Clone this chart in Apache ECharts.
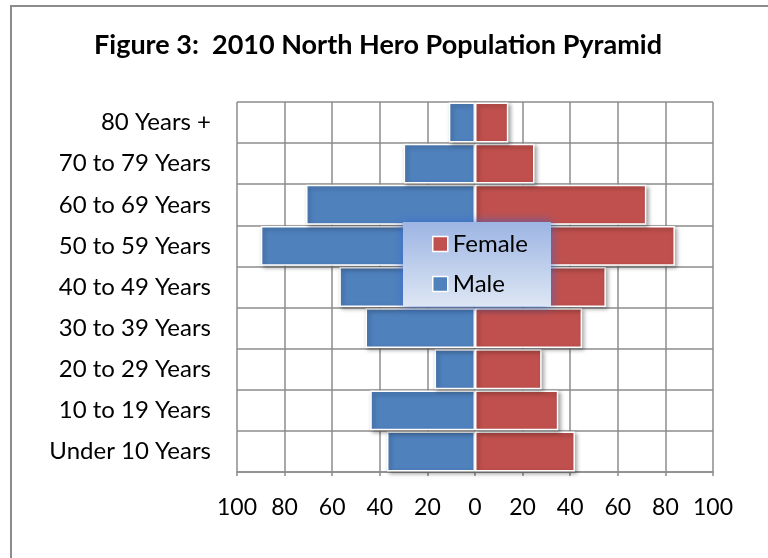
<!DOCTYPE html>
<html lang="en">
<head>
    <meta charset="UTF-8">
    <title>2010 North Hero Population Pyramid</title>
    <script src="https://cdn.jsdelivr.net/npm/echarts@6/dist/echarts.min.js"></script>
    <style>
        html, body { margin: 0; padding: 0; background: #fff; }
    </style>
</head>
<body>
<div id="main" style="width: 768px;height:558px;"></div>

<script type="text/javascript">
    // age groups, bottom to top
    const ageGroups = ['Under 10 Years', '10 to 19 Years', '20 to 29 Years', '30 to 39 Years',
        '40 to 49 Years', '50 to 59 Years', '60 to 69 Years', '70 to 79 Years', '80 Years +']
    const maleValues = [37, 44, 17, 46, 57, 90, 71, 30, 11]
    const femaleValues = [42, 35, 28, 45, 55, 84, 72, 25, 14]

    const font = 'Lato, "Open Sans", sans-serif'
    const gridColor = '#8c8c8c'

    const myChart = echarts.init(document.getElementById('main'))

    const barStyle = (color) => ({
        color: color,
        borderColor: '#ffffff',
        borderWidth: 1.5,
        shadowBlur: 4,
        shadowOffsetX: 2,
        shadowOffsetY: 2,
        shadowColor: 'rgba(0,0,0,0.35)'
    })

    const option = {
        animation: false,
        backgroundColor: '#ffffff',
        title: {
            text: 'Figure 3:  2010 North Hero Population Pyramid',
            left: 373,
            top: 27,
            textAlign: 'center',
            textStyle: {
                fontFamily: font,
                fontWeight: 'bold',
                fontSize: 27,
                color: '#000'
            }
        },
        graphic: [{
            type: 'rect',
            shape: { x: 11, y: 6, width: 800, height: 600 },
            style: { fill: 'none', stroke: '#8c8c8c', lineWidth: 2 },
            silent: true,
            z: -1
        }, {
            // legend box
            type: 'rect',
            shape: { x: 403, y: 222, width: 148, height: 84 },
            style: {
                fill: new echarts.graphic.LinearGradient(0, 0, 0, 1, [
                    { offset: 0, color: '#9db5e3' },
                    { offset: 1, color: '#dde6f4' }
                ]),
                shadowBlur: 10,
                shadowColor: 'rgba(50,100,210,0.75)'
            },
            silent: true,
            z: 3
        }],
        legend: {
            data: ['Female', 'Male'],
            orient: 'vertical',
            left: 427,
            top: 227,
            itemGap: 16,
            itemWidth: 15,
            itemHeight: 15,
            icon: 'rect',
            itemStyle: { borderColor: '#ffffff', borderWidth: 1.5 },
            textStyle: { fontFamily: font, fontSize: 24, color: '#000' },
            z: 5
        },
        grid: {
            left: 237,
            right: 55,
            top: 102,
            bottom: 86,
            containLabel: false
        },
        xAxis: {
            type: 'value',
            min: -100,
            max: 100,
            interval: 20,
            axisLine: { show: true, lineStyle: { color: gridColor, width: 1.5 } },
            axisTick: { show: true, length: 4, lineStyle: { color: gridColor, width: 1.5 } },
            splitLine: { show: true, lineStyle: { color: gridColor, width: 1.5 } },
            axisLabel: {
                margin: 24,
                fontFamily: font,
                fontSize: 23,
                color: '#000',
                formatter: (v) => Math.abs(v)
            }
        },
        yAxis: {
            type: 'category',
            data: ageGroups,
            axisLine: { show: true, onZero: true, lineStyle: { color: gridColor, width: 1.5 } },
            axisTick: { show: false },
            splitLine: { show: true, lineStyle: { color: gridColor, width: 1.5 } },
            axisLabel: {
                margin: 26,
                fontFamily: font,
                fontSize: 24,
                color: '#000'
            }
        },
        series: [{
            name: 'Male',
            type: 'bar',
            data: maleValues.map(v => -v),
            barGap: '-100%',
            barCategoryGap: '3%',
            itemStyle: barStyle('#4f81bd')
        }, {
            name: 'Female',
            type: 'bar',
            data: femaleValues,
            barGap: '-100%',
            barCategoryGap: '3%',
            itemStyle: barStyle('#c0504d')
        }]
    }

    myChart.setOption(option)
</script>
</body>
</html>
